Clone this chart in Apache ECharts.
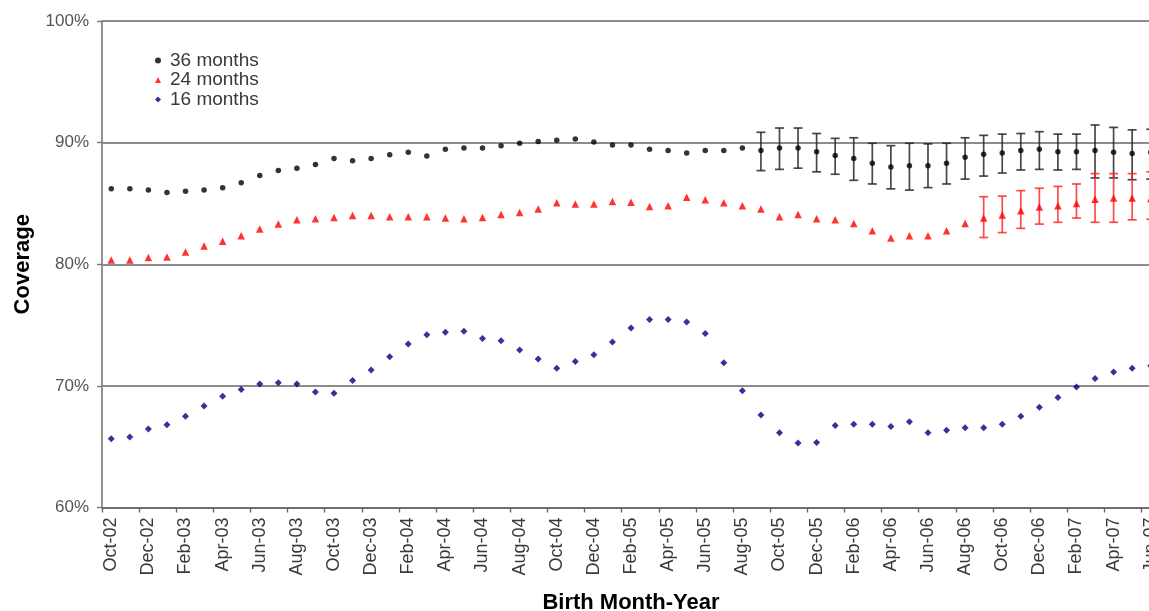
<!DOCTYPE html>
<html>
<head>
<meta charset="utf-8">
<script src="https://cdn.jsdelivr.net/npm/echarts@6/dist/echarts.min.js"></script>
<style>
  html, body { margin: 0; padding: 0; background: #fff; }
  #chart { width: 1149px; height: 611px; }
</style>
</head>
<body>
<div id="chart"></div>
<script>
const months = [
  'Oct-02','Nov-02','Dec-02',
  'Jan-03','Feb-03','Mar-03','Apr-03','May-03','Jun-03','Jul-03','Aug-03','Sep-03','Oct-03','Nov-03','Dec-03',
  'Jan-04','Feb-04','Mar-04','Apr-04','May-04','Jun-04','Jul-04','Aug-04','Sep-04','Oct-04','Nov-04','Dec-04',
  'Jan-05','Feb-05','Mar-05','Apr-05','May-05','Jun-05','Jul-05','Aug-05','Sep-05','Oct-05','Nov-05','Dec-05',
  'Jan-06','Feb-06','Mar-06','Apr-06','May-06','Jun-06','Jul-06','Aug-06','Sep-06','Oct-06','Nov-06','Dec-06',
  'Jan-07','Feb-07','Mar-07','Apr-07','May-07','Jun-07'
];

const cov36 = [
  86.2, 86.2, 86.1, 85.9, 86.0, 86.1, 86.3, 86.7, 87.3, 87.7, 87.9, 88.2, 88.7, 88.5, 88.7,
  89.0, 89.2, 88.9, 89.45, 89.55, 89.55, 89.75, 89.95, 90.1, 90.2, 90.3, 90.05,
  89.8, 89.8, 89.45, 89.35, 89.15, 89.35, 89.35, 89.55, 89.35, 89.55, 89.55, 89.25,
  88.95, 88.7, 88.3, 88.0, 88.1, 88.1, 88.3, 88.8, 89.05, 89.15, 89.35, 89.45,
  89.25, 89.25, 89.35, 89.2, 89.1, 89.2
];
const cov24 = [
  80.35, 80.35, 80.55, 80.6, 81.0, 81.5, 81.9, 82.35, 82.9, 83.3, 83.65, 83.75, 83.85, 84.0, 84.0,
  83.9, 83.9, 83.9, 83.8, 83.75, 83.85, 84.1, 84.25, 84.55, 85.05, 84.95, 84.95,
  85.15, 85.1, 84.75, 84.8, 85.5, 85.3, 85.05, 84.8, 84.55, 83.9, 84.1, 83.75,
  83.65, 83.35, 82.75, 82.15, 82.35, 82.35, 82.75, 83.35, 83.8, 84.05, 84.4, 84.7,
  84.8, 85.0, 85.35, 85.45, 85.45, 85.4
];
const cov16 = [
  65.65, 65.8, 66.45, 66.8, 67.5, 68.35, 69.15, 69.7, 70.15, 70.25, 70.15, 69.5, 69.4, 70.45, 71.3,
  72.4, 73.45, 74.2, 74.4, 74.5, 73.9, 73.7, 72.95, 72.2, 71.45, 72.0, 72.55,
  73.6, 74.75, 75.45, 75.45, 75.25, 74.3, 71.9, 69.6, 67.6, 66.15, 65.3, 65.35,
  66.75, 66.85, 66.85, 66.65, 67.05, 66.15, 66.35, 66.55, 66.55, 66.85, 67.5, 68.25,
  69.05, 69.9, 70.6, 71.15, 71.45, 71.65
];

// error bars: first month index, lower and upper limits
const err36Start = 35;
const err36Low  = [87.7, 87.8, 87.9, 87.6, 87.4, 86.9, 86.6, 86.2, 86.1, 86.3, 86.6, 87.0, 87.25, 87.5, 87.75, 87.8, 87.75, 87.8, 87.1, 87.1, 86.95, 87.0];
const err36High = [90.85, 91.2, 91.2, 90.75, 90.35, 90.4, 89.95, 89.75, 89.95, 89.9, 89.95, 90.4, 90.6, 90.7, 90.75, 90.9, 90.7, 90.7, 91.45, 91.25, 91.05, 91.1];
const err24Start = 47;
const err24Low  = [82.2, 82.6, 82.95, 83.3, 83.45, 83.8, 83.45, 83.45, 83.65, 83.7];
const err24High = [85.55, 85.6, 86.05, 86.25, 86.4, 86.6, 87.45, 87.45, 87.45, 87.6];

const yTicks = { min: 60, max: 100, interval: 10 };

function errorBars(name, start, low, high, color) {
  return {
    name: name,
    type: 'custom',
    z: 1,
    silent: true,
    clip: false,
    data: low.map((l, i) => [start + i, l, high[i]]),
    encode: { x: 0, y: [1, 2] },
    renderItem: function (params, api) {
      const x = api.value(0);
      const p1 = api.coord([x, api.value(1)]);
      const p2 = api.coord([x, api.value(2)]);
      const hw = 4.5;
      const st = { stroke: color, lineWidth: 1.7 };
      return {
        type: 'group',
        children: [
          { type: 'line', shape: { x1: p1[0], y1: p1[1], x2: p2[0], y2: p2[1] }, style: st },
          { type: 'line', shape: { x1: p1[0] - hw, y1: p1[1], x2: p1[0] + hw, y2: p1[1] }, style: st },
          { type: 'line', shape: { x1: p2[0] - hw, y1: p2[1], x2: p2[0] + hw, y2: p2[1] }, style: st }
        ]
      };
    }
  };
}

const chart = echarts.init(document.getElementById('chart'), null, { renderer: 'canvas' });
chart.setOption({
  animation: false,
  backgroundColor: '#ffffff',
  textStyle: { fontFamily: 'Liberation Sans, Arial, sans-serif' },
  grid: { left: 102, top: 21, right: -11, bottom: 103.5, containLabel: false, outerBoundsMode: 'none' },
  legend: {
    data: ['36 months', '24 months', '16 months'],
    orient: 'vertical',
    left: 150,
    top: 46,
    itemWidth: 6,
    itemHeight: 6,
    itemGap: 0.5,
    textStyle: { fontSize: 19, lineHeight: 18, color: '#3a3a3a', padding: [0, 0, 0, 4],
                 fontFamily: 'Liberation Sans, Arial, sans-serif' }
  },
  xAxis: {
    type: 'category',
    data: months,
    boundaryGap: true,
    name: 'Birth Month-Year',
    nameLocation: 'middle',
    nameGap: 84,
    nameTextStyle: { fontSize: 22, fontWeight: 'bold', color: '#000',
                     fontFamily: 'Liberation Sans, Arial, sans-serif' },
    axisLine: { lineStyle: { color: '#666', width: 1.6 } },
    axisTick: { show: true, interval: 1, length: 5, lineStyle: { color: '#666', width: 1.4 } },
    axisLabel: { interval: 1, rotate: 90, margin: 10, fontSize: 18, color: '#3a3a3a',
                 fontFamily: 'Liberation Sans, Arial, sans-serif' },
    splitLine: { show: false }
  },
  yAxis: {
    type: 'value',
    min: yTicks.min,
    max: yTicks.max,
    interval: yTicks.interval,
    name: 'Coverage',
    nameLocation: 'middle',
    nameRotate: 90,
    nameGap: 68,
    nameTextStyle: { fontSize: 22, fontWeight: 'bold', color: '#000',
                     fontFamily: 'Liberation Sans, Arial, sans-serif' },
    axisLine: { show: true, lineStyle: { color: '#888', width: 1.8 } },
    axisTick: { show: true, length: 5, lineStyle: { color: '#777', width: 1.4 } },
    axisLabel: { formatter: '{value}%', margin: 13, fontSize: 17, color: '#555',
                 fontFamily: 'Liberation Sans, Arial, sans-serif' },
    splitLine: { show: true, lineStyle: { color: '#666', width: 1.6 } }
  },
  series: [
    errorBars('err36', err36Start, err36Low, err36High, 'rgba(40,40,40,0.85)'),
    errorBars('err24', err24Start, err24Low, err24High, 'rgba(255,30,30,0.8)'),
    {
      name: '36 months', type: 'scatter', data: cov36, symbol: 'circle', symbolSize: 5.5, z: 3,
      itemStyle: { color: '#000000' }
    },
    {
      name: '24 months', type: 'scatter', data: cov24, symbol: 'triangle', symbolSize: 7.5, z: 3,
      itemStyle: { color: '#ff0000' }
    },
    {
      name: '16 months', type: 'scatter', data: cov16, symbol: 'diamond', symbolSize: 7, z: 3,
      itemStyle: { color: '#000080' }
    }
  ]
});
</script>
</body>
</html>
